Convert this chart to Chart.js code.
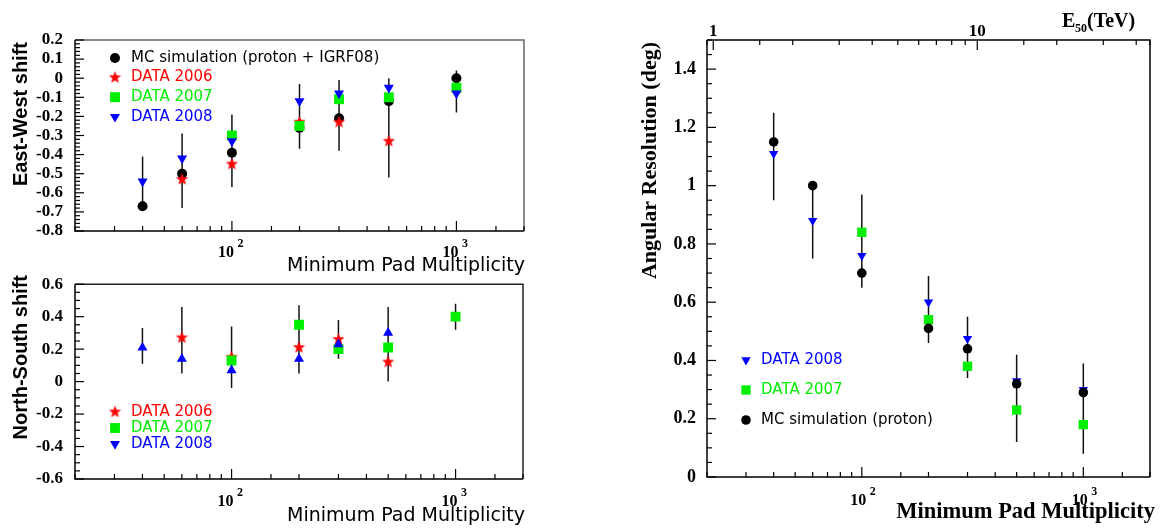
<!DOCTYPE html>
<html>
<head>
<meta charset="utf-8">
<script src="https://cdn.jsdelivr.net/npm/chart.js@4/dist/chart.umd.min.js"></script>
<style>
  body { margin: 0; background: #fff; }
  #wrap { position: relative; width: 1167px; height: 532px; overflow: hidden; background: #fff; }
  canvas { position: absolute; }
</style>
</head>
<body>
<div id="wrap">
  <canvas id="ewChart" width="540" height="290" style="left:0;top:0"></canvas>
  <canvas id="nsChart" width="540" height="270" style="left:0;top:262px"></canvas>
  <canvas id="resChart" width="567" height="532" style="left:600px;top:0"></canvas>
</div>
<script>
// minimum pad multiplicity (x axis, same for all panels)
const multX = [40, 60, 100, 200, 300, 500, 1000];

// East-West shift (top left)
const ewMC    = [-0.67, -0.50, -0.39, -0.26, -0.21, -0.12, 0.00];
const ew2006  = [null, -0.53, -0.45, -0.23, -0.23, -0.33, null];
const ew2007  = [null, null, -0.30, -0.25, -0.11, -0.10, -0.05];
const ew2008  = [-0.54, -0.42, -0.33, -0.12, -0.08, -0.05, -0.08];
const ewErrLo = [-0.67, -0.68, -0.57, -0.37, -0.38, -0.52, -0.18];
const ewErrHi = [-0.41, -0.29, -0.19, -0.03, -0.01, 0.00, 0.04];

// North-South shift (bottom left)
const ns2006  = [null, 0.27, 0.15, 0.21, 0.26, 0.12, null];
const ns2007  = [null, null, 0.13, 0.35, 0.20, 0.21, 0.40];
const ns2008  = [0.21, 0.14, 0.07, 0.14, 0.23, 0.30, null];
const nsErrLo = [0.11, 0.05, -0.04, 0.05, 0.14, 0.00, 0.32];
const nsErrHi = [0.33, 0.46, 0.34, 0.47, 0.38, 0.46, 0.48];

// angular resolution in deg (right)
const res2008  = [1.11, 0.88, 0.76, 0.60, 0.475, 0.33, 0.30];
const res2007  = [null, null, 0.84, 0.54, 0.38, 0.23, 0.18];
const resMC    = [1.15, 1.00, 0.70, 0.51, 0.44, 0.32, 0.29];
const resErrLo = [0.95, 0.75, 0.65, 0.46, 0.34, 0.12, 0.08];
const resErrHi = [1.25, 0.99, 0.97, 0.69, 0.55, 0.42, 0.39];

// tick labels (decade exponents on the multiplicity axis, E50 axis on top)
const multDecades = {2: '2', 3: '3'};
const energyLabels = {0: '1', 1: '10'};

const RED = '#ff0000', GREEN = '#00ee00', BLUE = '#0000ff', BLACK = '#000000';

// filled five point star, used as point style
function starImage(r, color) {
  const s = Math.ceil(r * 2) + 2;
  const c = document.createElement('canvas');
  c.width = s; c.height = s;
  const g = c.getContext('2d');
  g.fillStyle = color;
  g.beginPath();
  for (let i = 0; i < 10; i++) {
    const rr = i % 2 ? r * 0.42 : r;
    const a = -Math.PI / 2 + i * Math.PI / 5;
    g.lineTo(s / 2 + rr * Math.cos(a), s / 2 + rr * Math.sin(a));
  }
  g.closePath();
  g.fill();
  return c;
}
const redStar = starImage(6.5, RED);

function pts(ys) {
  return multX.map((x, i) => ys[i] == null ? null : {x: x, y: ys[i]}).filter(p => p);
}
function bars(lo, hi) {
  const d = [];
  multX.forEach((x, i) => { d.push({x: x, y: lo[i]}, {x: x, y: hi[i]}, {x: x, y: null}); });
  return d;
}
function markers(ys, style, r, color, order, rot) {
  return {data: pts(ys), pointStyle: style, pointRadius: r, pointRotation: rot || 0,
    backgroundColor: color, borderColor: color, borderWidth: 0, showLine: false, order: order};
}
function errors(lo, hi) {
  return {data: bars(lo, hi), showLine: true, spanGaps: false, pointRadius: 0,
    borderColor: '#111', borderWidth: 1.5, order: 10};
}

const isDecade = v => Math.abs(Math.log10(v) - Math.round(Math.log10(v))) < 1e-6;
const fmt = v => { const r = Math.round(v * 100) / 100; return r === 0 ? '0' : String(r); };

function logAxis(pos, min, max, h, pad, size, labels) {
  return {
    type: 'logarithmic', position: pos, min: min, max: max,
    grid: {display: false, drawTicks: false}, border: {display: false},
    ticks: {autoSkip: false, maxRotation: 0, padding: pad, color: '#000',
      font: {family: 'Liberation Serif', weight: 'bold', size: size},
      // bottom axis labels are drawn as 10 + exponent by the decor plugin
      callback: v => (labels && isDecade(v)) ? (labels[Math.round(Math.log10(v))] || '') : ''},
    afterFit: s => { s.height = h; }
  };
}
function linAxis(min, max, step, w, pad, size) {
  return {
    min: min, max: max,
    grid: {display: false, drawTicks: false}, border: {display: false},
    ticks: {stepSize: step, autoSkip: false, padding: pad, color: '#000',
      font: {family: 'Liberation Serif', weight: 'bold', size: size},
      callback: v => Math.abs(v / step - Math.round(v / step)) < 1e-6 ? fmt(v) : ''},
    afterFit: s => { s.width = w; }
  };
}

// frame, inside tick marks, decade labels, legend and titles
const decor = {
  id: 'decor',
  afterDraw(chart, args, o) {
    const ctx = chart.ctx, ca = chart.chartArea;
    ctx.save();
    ctx.strokeStyle = '#000';
    ctx.lineWidth = 1.5;
    // frame
    ctx.beginPath();
    ctx.moveTo(ca.left, ca.top); ctx.lineTo(ca.left, ca.bottom); ctx.lineTo(ca.right, ca.bottom);
    ctx.stroke();
    ctx.strokeStyle = o.frameColor || '#000';
    ctx.beginPath();
    ctx.moveTo(ca.left, ca.top); ctx.lineTo(ca.right, ca.top); ctx.lineTo(ca.right, ca.bottom);
    ctx.stroke();
    // x ticks
    ctx.strokeStyle = '#000';
    ctx.lineWidth = 1.2;
    const xTicks = (id, edge, dir) => {
      const sc = chart.scales[id];
      sc.ticks.forEach(t => {
        const v = t.value;
        if (v < sc.min * 0.999 || v > sc.max * 1.001) return;
        const px = sc.getPixelForValue(v);
        const len = isDecade(v) ? 10 : 5;
        ctx.beginPath(); ctx.moveTo(px, edge); ctx.lineTo(px, edge + dir * len); ctx.stroke();
      });
    };
    xTicks('x', ca.bottom, -1);
    if (chart.scales.xTop) xTicks('xTop', ca.top, 1);
    // decade labels 10^n under the bottom axis
    const xs = chart.scales.x;
    ctx.fillStyle = '#000';
    xs.ticks.forEach(t => {
      const v = t.value;
      if (!isDecade(v) || v < xs.min || v > xs.max) return;
      const exp = multDecades[Math.round(Math.log10(v))];
      if (!exp) return;
      const px = xs.getPixelForValue(v), cy = ca.bottom + o.xLabDy;
      ctx.font = 'bold 16px "Liberation Serif", serif';
      ctx.textAlign = 'right'; ctx.textBaseline = 'alphabetic';
      ctx.fillText('10', px + o.xLabDx, cy + 5.5);
      ctx.font = 'bold 12px "Liberation Serif", serif';
      ctx.textAlign = 'left';
      ctx.fillText(exp, px + o.xLabDx + 3.5, cy - 4);
    });
    // y ticks
    const ys = chart.scales.y;
    const n = Math.round((ys.max - ys.min) / o.yMinor);
    const every = Math.round(ys.options.ticks.stepSize / o.yMinor);
    for (let i = 0; i <= n; i++) {
      const py = ys.getPixelForValue(ys.min + i * o.yMinor);
      const len = i % every === 0 ? 9 : 5;
      ctx.beginPath(); ctx.moveTo(ca.left, py); ctx.lineTo(ca.left + len, py); ctx.stroke();
    }
    // legend
    const L = o.legend;
    L.items.forEach((it, i) => {
      const y = L.y + i * L.dy;
      ctx.fillStyle = it.color;
      Chart.helpers.drawPoint(ctx, {pointStyle: it.style, radius: it.r, rotation: it.rot || 0, borderWidth: 0}, L.x, y);
      ctx.font = L.font;
      ctx.textAlign = 'left';
      ctx.textBaseline = 'middle';
      ctx.fillText(it.text, L.x + L.gap, y);
    });
    // titles
    ctx.fillStyle = '#000';
    o.texts.forEach(t => {
      ctx.save();
      ctx.font = t.font;
      ctx.textAlign = t.align || 'left';
      ctx.textBaseline = 'alphabetic';
      ctx.translate(t.x, t.y);
      if (t.rot) ctx.rotate(t.rot);
      ctx.fillText(t.text, 0, 0);
      ctx.restore();
    });
    ctx.restore();
  }
};

const common = {
  responsive: false, animation: false, events: [],
  plugins: {legend: {display: false}, tooltip: {enabled: false}}
};
const sansFont = '15px "DejaVu Sans", sans-serif';
const leftTitle = '19px "DejaVu Sans", sans-serif';

// top left: East-West shift
new Chart(document.getElementById('ewChart'), {
  type: 'scatter',
  data: {datasets: [
    errors(ewErrLo, ewErrHi),
    markers(ewMC, 'circle', 5, BLACK, 4),
    markers(ew2006, redStar, 6, RED, 3),
    markers(ew2007, 'rect', 7, GREEN, 2),
    markers(ew2008, 'triangle', 5.8, BLUE, 1, 180)
  ]},
  options: Object.assign({}, common, {
    layout: {padding: {left: 0, right: 16, top: 40, bottom: 0}},
    scales: {x: logAxis('bottom', 20, 2000, 59, 16, 14, null), y: linAxis(-0.8, 0.2, 0.1, 75, 12, 17)},
    plugins: Object.assign({}, common.plugins, {decor: {
      yMinor: 0.02, frameColor: '#666', xLabDy: 20, xLabDx: 2,
      legend: {x: 115, y: 58, dy: 19.6, gap: 16, font: sansFont, items: [
        {text: 'MC simulation (proton + IGRF08)', style: 'circle', r: 5, color: BLACK},
        {text: 'DATA 2006', style: redStar, r: 6, color: RED},
        {text: 'DATA 2007', style: 'rect', r: 7, color: GREEN},
        {text: 'DATA 2008', style: 'triangle', r: 5.8, rot: 180, color: BLUE}
      ]},
      texts: [
        {text: 'East-West shift', x: 27, y: 42, rot: -Math.PI / 2, align: 'right', font: 'bold 20px "Liberation Sans", Arial, sans-serif'},
        {text: 'Minimum Pad Multiplicity', x: 525, y: 271, align: 'right', font: leftTitle}
      ]
    }})
  }),
  plugins: [decor]
});

// bottom left: North-South shift
new Chart(document.getElementById('nsChart'), {
  type: 'scatter',
  data: {datasets: [
    errors(nsErrLo, nsErrHi),
    markers(ns2006, redStar, 6, RED, 3),
    markers(ns2007, 'rect', 7, GREEN, 2),
    markers(ns2008, 'triangle', 5.8, BLUE, 1)
  ]},
  options: Object.assign({}, common, {
    layout: {padding: {left: 0, right: 16, top: 22, bottom: 0}},
    scales: {x: logAxis('bottom', 20, 2000, 53, 17, 14, null), y: linAxis(-0.6, 0.6, 0.2, 75, 12, 17)},
    plugins: Object.assign({}, common.plugins, {decor: {
      yMinor: 0.05, frameColor: '#222', xLabDy: 21, xLabDx: 2,
      legend: {x: 115, y: 150, dy: 16, gap: 16, font: sansFont, items: [
        {text: 'DATA 2006', style: redStar, r: 6, color: RED},
        {text: 'DATA 2007', style: 'rect', r: 7, color: GREEN},
        {text: 'DATA 2008', style: 'triangle', r: 5.8, rot: 180, color: BLUE}
      ]},
      texts: [
        {text: 'North-South shift', x: 27, y: 13, rot: -Math.PI / 2, align: 'right', font: 'bold 20px "Liberation Sans", Arial, sans-serif'},
        {text: 'Minimum Pad Multiplicity', x: 525, y: 259, align: 'right', font: leftTitle}
      ]
    }})
  }),
  plugins: [decor]
});

// right: angular resolution with E50 axis on top
new Chart(document.getElementById('resChart'), {
  type: 'scatter',
  data: {datasets: [
    errors(resErrLo, resErrHi),
    markers(res2007, 'rect', 6.6, GREEN, 3),
    markers(res2008, 'triangle', 5.4, BLUE, 2, 180),
    markers(resMC, 'circle', 4.8, BLACK, 1)
  ]},
  options: Object.assign({}, common, {
    layout: {padding: {left: 0, right: 11, top: 0, bottom: 0}},
    scales: {
      x: logAxis('bottom', 20, 2000, 55, 17, 14, null),
      xTop: logAxis('top', 0.947, 45.1, 40, -2, 17, energyLabels),
      y: linAxis(0, 1.5, 0.2, 107, 11, 18)
    },
    plugins: Object.assign({}, common.plugins, {decor: {
      yMinor: 0.05, frameColor: '#000', xLabDy: 22, xLabDx: 4.5,
      legend: {x: 146, y: 360, dy: 30, gap: 15, font: sansFont, items: [
        {text: 'DATA 2008', style: 'triangle', r: 5.4, rot: 180, color: BLUE},
        {text: 'DATA 2007', style: 'rect', r: 6.6, color: GREEN},
        {text: 'MC simulation (proton)', style: 'circle', r: 4.8, color: BLACK}
      ]},
      texts: [
        {text: 'Angular Resolution (deg)', x: 56, y: 42, rot: -Math.PI / 2, align: 'right', font: 'bold 22px "Liberation Serif", serif'},
        {text: 'Minimum Pad Multiplicity', x: 555, y: 518, align: 'right', font: 'bold 22.5px "Liberation Serif", serif'},
        {text: 'E', x: 462, y: 27, font: 'bold 20px "Liberation Serif", serif'},
        {text: '50', x: 475, y: 32, font: 'bold 12px "Liberation Serif", serif'},
        {text: '(TeV)', x: 487, y: 27, font: 'bold 20px "Liberation Serif", serif'}
      ]
    }})
  }),
  plugins: [decor]
});
</script>
</body>
</html>
